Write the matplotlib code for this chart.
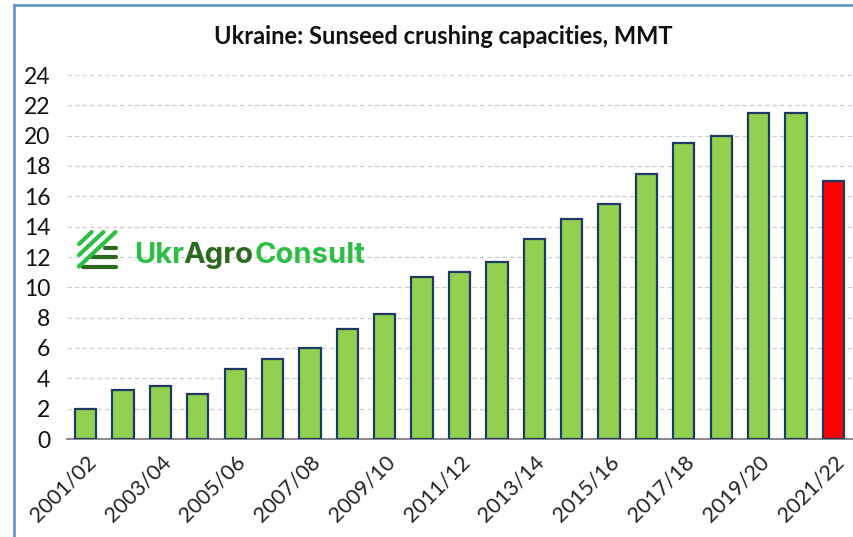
import matplotlib
matplotlib.use('Agg')
import matplotlib.pyplot as plt
from matplotlib.lines import Line2D

plt.rcParams['font.family'] = ['Lato', 'DejaVu Sans']

seasons = ['2001/02', '2002/03', '2003/04', '2004/05', '2005/06', '2006/07', '2007/08',
           '2008/09', '2009/10', '2010/11', '2011/12', '2012/13', '2013/14', '2014/15',
           '2015/16', '2016/17', '2017/18', '2018/19', '2019/20', '2020/21', '2021/22']
capacity = [2.0, 3.2, 3.5, 3.0, 4.6, 5.3, 6.0, 7.25, 8.25, 10.65, 11.0,
            11.7, 13.2, 14.5, 15.5, 17.5, 19.5, 20.0, 21.5, 21.5, 17.0]
bar_colors = ['#92D050'] * 20 + ['#FF0000']
y_ticks = list(range(0, 25, 2))

W, H = 854, 537


# pixel position (from top left) to figure coordinates
def px(x, y):
    return x / W, 1 - y / H


fig = plt.figure(figsize=(W / 100, H / 100), dpi=100)
ax = fig.add_axes([67 / W, 1 - 439 / H, (852 - 67) / W, (439 - 75) / H])

# bars
ax.bar(range(len(seasons)), capacity, width=0.57, color=bar_colors,
       edgecolor='#1F3864', linewidth=1.6, zorder=3)

ax.set_xlim(-0.5, 20.5)
ax.set_ylim(0, 24)
ax.set_yticks(y_ticks)
ax.tick_params(axis='y', length=0, labelsize=16.5, pad=12, labelcolor='#111111')
ax.set_xticks(range(0, len(seasons), 2))
ax.set_xticklabels(seasons[::2], rotation=45, ha='right', rotation_mode='anchor')
ax.tick_params(axis='x', length=0, labelsize=15.5, pad=9, labelcolor='#222222')

# grid and spines
ax.grid(axis='y', color='#CCCCCC', linestyle=(0, (3.5, 2.5)), linewidth=0.9, zorder=0)
for side in ['top', 'left', 'right']:
    ax.spines[side].set_visible(False)
ax.spines['bottom'].set_color('#8C8C8C')
ax.spines['bottom'].set_linewidth(1.5)

# title
fig.text(*px(443, 36), 'Ukraine: Sunseed crushing capacities, MMT', ha='center', va='center',
         fontsize=17, fontweight='bold', color='#111111')

# outer frame, only left and top visible
fig.add_artist(Line2D([14 / W, 14 / W], [0, 1 - 5 / H], color='#5B8FC9', linewidth=1.8))
fig.add_artist(Line2D([14 / W, 1], [1 - 5 / H, 1 - 5 / H], color='#5B8FC9', linewidth=1.8))

# logo
green = '#2DBE45'
dark = '#2B6A1E'
for x0, y0 in [(105, 248), (92, 257), (83, 266.5)]:
    fig.add_artist(Line2D([x0 / W, 116 / W], [1 - y0 / H] * 2, color=dark, linewidth=3,
                          solid_capstyle='round'))
for y0 in [244, 255, 266.5]:
    x1 = 79 + (y0 - 232) * 1.06
    fig.add_artist(Line2D([79 / W, x1 / W], [1 - y0 / H, 1 - 232 / H], color=green, linewidth=3,
                          solid_capstyle='round'))
logo_font = dict(fontsize=21, fontweight='bold', family='Inter', va='baseline', ha='left')
fig.text(*px(134, 263), 'Ukr', color=green, **logo_font)
fig.text(*px(183, 263), 'Agro', color=dark, **logo_font)
fig.text(*px(255, 263), 'Consult', color=green, **logo_font)

fig.savefig('out.png', dpi=100)
